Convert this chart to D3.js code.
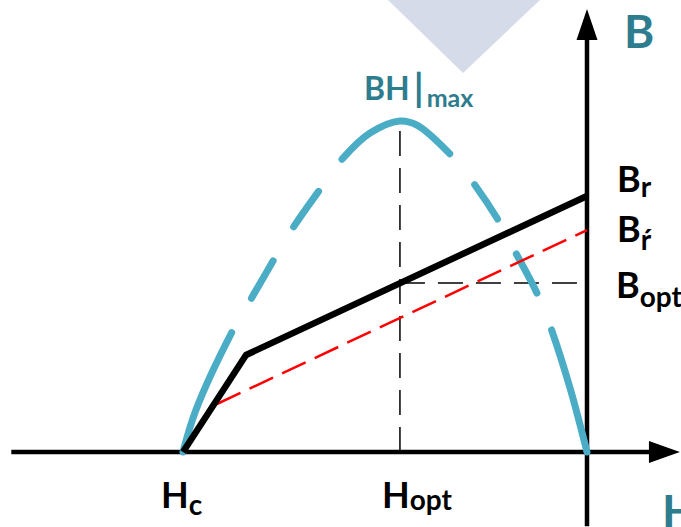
<!DOCTYPE html>
<html>
<head>
<meta charset="utf-8">
<script src="https://cdn.jsdelivr.net/npm/d3@7"></script>
<style>
  html, body { margin: 0; padding: 0; background: #fff; }
  svg { display: block; font-family: Lato, "Open Sans", sans-serif; font-weight: 700; }
</style>
</head>
<body>
<div id="chart"></div>
<script>
// Demagnetisation quadrant: H normalised to Hc = -1, B normalised to Br = 1.
const hAxisExtent = [-1.425, 0.23];  // H axis, left end to arrow tip
const bAxisExtent = [-0.29, 1.73];   // B axis, bottom end to arrow tip

const Hc = -1, Hopt = -0.463;
const Br = 1, BrPrime = 0.867, Bopt = 0.66;

// Demagnetisation line: Hc -> knee -> Br
const demagH = [-1, -0.844, 0];
const demagB = [0, 0.379, 1];

// Shifted line ending at Br'
const shiftedH = [-0.916, 0];
const shiftedB = [0.1875, BrPrime];

// Energy product BH (scaled to the B axis)
const bhH = [-1, -0.968, -0.876, -0.829, -0.767, -0.723, -0.653, -0.604, -0.537, -0.463,
             -0.421, -0.344, -0.290, -0.223, -0.183, -0.124, -0.092, -0.042, 0];
const bhV = [0, 0.164, 0.477, 0.605, 0.773, 0.887, 1.043, 1.148, 1.246, 1.293,
             1.277, 1.172, 1.070, 0.914, 0.797, 0.621, 0.496, 0.250, 0];

const W = 681, H = 527;
const teal = "#2E7D8F", aqua = "#4BACC6";

const svg = d3.select("#chart").append("svg")
  .attr("width", W).attr("height", H);

svg.append("rect").attr("width", W).attr("height", H).attr("fill", "#fff");

// faint logo triangle at the top
svg.append("polygon")
  .attr("points", "388,0 540,0 463,73")
  .attr("fill", "#D5DBE9");

const x = d3.scaleLinear().domain([-1, 0]).range([183, 587]);
const y = d3.scaleLinear().domain([0, 1]).range([452, 196]);

// Axes
const axisW = 4.5, arrowLen = 31, arrowHalf = 11;
svg.append("line")
  .attr("x1", x(hAxisExtent[0])).attr("x2", x(hAxisExtent[1]) - arrowLen + 2)
  .attr("y1", y(0)).attr("y2", y(0))
  .attr("stroke", "#000").attr("stroke-width", axisW);
svg.append("path")
  .attr("d", `M${x(hAxisExtent[1])},${y(0)} L${x(hAxisExtent[1]) - arrowLen},${y(0) - arrowHalf} L${x(hAxisExtent[1]) - arrowLen},${y(0) + arrowHalf} Z`)
  .attr("fill", "#000");

svg.append("line")
  .attr("x1", x(0)).attr("x2", x(0))
  .attr("y1", y(bAxisExtent[0])).attr("y2", y(bAxisExtent[1]) + arrowLen - 2)
  .attr("stroke", "#000").attr("stroke-width", axisW);
svg.append("path")
  .attr("d", `M${x(0)},${y(bAxisExtent[1])} L${x(0) - arrowHalf + 0.5},${y(bAxisExtent[1]) + arrowLen} L${x(0) + arrowHalf - 0.5},${y(bAxisExtent[1]) + arrowLen} Z`)
  .attr("fill", "#000");

// Guide lines at the operating point
svg.append("line")
  .attr("x1", x(Hopt)).attr("x2", x(Hopt))
  .attr("y1", y(0)).attr("y2", y(d3.max(bhV)))
  .attr("stroke", "#000").attr("stroke-width", 1.5)
  .attr("stroke-dasharray", "25,12");
svg.append("line")
  .attr("x1", x(Hopt)).attr("x2", x(0) - 10)
  .attr("y1", y(Bopt)).attr("y2", y(Bopt))
  .attr("stroke", "#000").attr("stroke-width", 1.5)
  .attr("stroke-dasharray", "25,13");

// BH product curve
const bhLine = d3.line()
  .x((d, i) => x(bhH[i])).y(d => y(d))
  .curve(d3.curveCatmullRom.alpha(0.5));
const bhPath = svg.append("path")
  .attr("d", bhLine(bhV))
  .attr("fill", "none").attr("stroke", aqua)
  .attr("stroke-width", 7).attr("stroke-linecap", "round");
const L = bhPath.node().getTotalLength();
const lead = [129, 40, 43, 40, 43, 40];
const tail = [40, 41, 40, 44, 40];
const endSolid = 127;
const topSolid = L - d3.sum(lead) - d3.sum(tail) - endSolid;
bhPath.attr("stroke-dasharray", [...lead, topSolid, ...tail, endSolid + 10].join(","));

// shifted line (red, dashed)
svg.append("path")
  .attr("d", d3.line().x((d, i) => x(shiftedH[i])).y(d => y(d))(shiftedB))
  .attr("fill", "none").attr("stroke", "#FF0000")
  .attr("stroke-width", 2.5).attr("stroke-dasharray", "26,10");

// demagnetisation line (black)
svg.append("path")
  .attr("d", d3.line().x((d, i) => x(demagH[i])).y(d => y(d))(demagB))
  .attr("fill", "none").attr("stroke", "#000")
  .attr("stroke-width", 6.5).attr("stroke-linejoin", "round");

// Labels
function subLabel(px, py, main, sub, mainSize, subSize, subDy, color) {
  const t = svg.append("text").attr("x", px).attr("y", py).attr("fill", color || "#000");
  t.append("tspan").attr("font-size", mainSize).text(main);
  t.append("tspan").attr("font-size", subSize).attr("dy", subDy).text(sub);
  return t;
}

svg.append("text").attr("x", 624).attr("y", 48)
  .attr("font-size", 46).attr("fill", teal).text("B");
svg.append("text").attr("x", 662).attr("y", 528)
  .attr("font-size", 46).attr("fill", teal).text("H");

const bhLabel = svg.append("text").attr("x", 364).attr("y", 100).attr("fill", teal);
bhLabel.append("tspan").attr("font-size", 32).text("BH");
bhLabel.append("tspan").attr("font-size", 38).attr("dx", 4).attr("dy", 2).text("|");
bhLabel.append("tspan").attr("font-size", 25).attr("dx", 3).attr("dy", 5).text("max");

subLabel(617, 192, "B", "r", 36, 28, 5);
subLabel(617, 242, "B", "\u0155", 36, 28, 8);   // B'r
subLabel(616, 298, "B", "opt", 36, 28, 9);

subLabel(161, 508, "H", "c", 36, 28, 7);
subLabel(382, 508, "H", "opt", 36, 28, 2);
</script>
</body>
</html>
